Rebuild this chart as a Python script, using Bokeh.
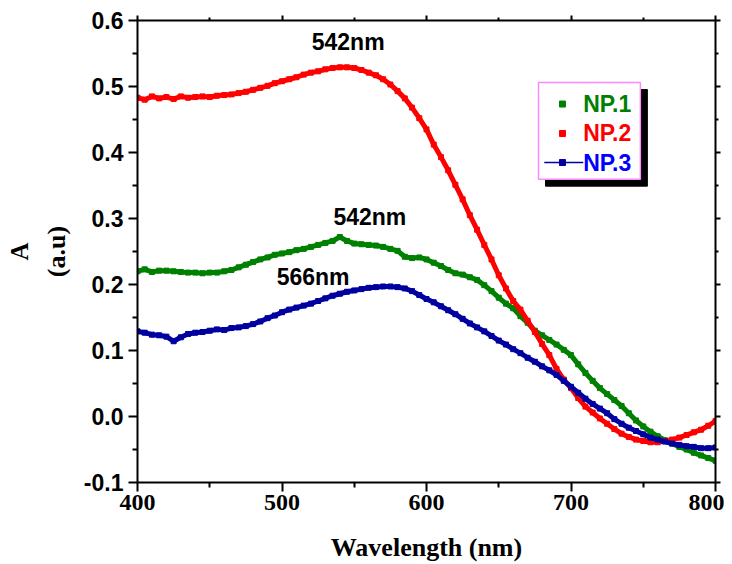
from bokeh.plotting import figure
from bokeh.models import LinearAxis, FixedTicker, PrintfTickFormatter, Range1d, CustomJSTickFormatter
from bokeh.core.properties import value
from bokeh.embed import file_html
from bokeh.resources import INLINE

wavelength = list(range(400, 805, 5))

np1 = [0.220, 0.223, 0.219, 0.221, 0.221, 0.220, 0.219, 0.218, 0.218, 0.217,
       0.218, 0.218, 0.220, 0.222, 0.226, 0.230, 0.234, 0.238, 0.241, 0.245,
       0.247, 0.249, 0.252, 0.254, 0.257, 0.260, 0.263, 0.266, 0.272, 0.266,
       0.262, 0.261, 0.260, 0.259, 0.257, 0.254, 0.251, 0.242, 0.240, 0.241,
       0.238, 0.233, 0.228, 0.222, 0.217, 0.215, 0.211, 0.207, 0.199, 0.190,
       0.180, 0.171, 0.164, 0.152, 0.142, 0.130, 0.123, 0.116, 0.109, 0.101,
       0.093, 0.079, 0.066, 0.054, 0.043, 0.034, 0.025, 0.016, 0.005, -0.006,
       -0.015, -0.023, -0.030, -0.036, -0.041, -0.046, -0.050, -0.055, -0.059, -0.063,
       -0.067]

np2 = [0.483, 0.480, 0.485, 0.482, 0.484, 0.481, 0.485, 0.483, 0.484, 0.485,
       0.484, 0.486, 0.487, 0.488, 0.490, 0.492, 0.495, 0.498, 0.501, 0.505,
       0.508, 0.511, 0.514, 0.518, 0.521, 0.523, 0.526, 0.528, 0.529, 0.529,
       0.528, 0.525, 0.521, 0.517, 0.511, 0.503, 0.493, 0.482, 0.468, 0.452,
       0.435, 0.412, 0.393, 0.373, 0.351, 0.329, 0.305, 0.283, 0.260, 0.238,
       0.214, 0.194, 0.175, 0.162, 0.145, 0.128, 0.110, 0.093, 0.072, 0.056,
       0.043, 0.028, 0.015, 0.006, -0.003, -0.011, -0.019, -0.026, -0.031, -0.035,
       -0.037, -0.039, -0.039, -0.037, -0.035, -0.032, -0.028, -0.024, -0.020, -0.014,
       -0.007]

np3 = [0.129, 0.127, 0.124, 0.123, 0.121, 0.114, 0.120, 0.125, 0.127, 0.128,
       0.130, 0.132, 0.131, 0.134, 0.135, 0.137, 0.140, 0.144, 0.149, 0.153,
       0.158, 0.162, 0.165, 0.168, 0.171, 0.175, 0.179, 0.183, 0.186, 0.189,
       0.191, 0.193, 0.195, 0.196, 0.197, 0.197, 0.196, 0.194, 0.190, 0.184,
       0.178, 0.173, 0.167, 0.161, 0.155, 0.148, 0.141, 0.135, 0.129, 0.122,
       0.115, 0.109, 0.102, 0.096, 0.089, 0.083, 0.076, 0.070, 0.063, 0.054,
       0.045, 0.036, 0.027, 0.019, 0.012, 0.005, -0.004, -0.011, -0.017, -0.022,
       -0.027, -0.032, -0.035, -0.038, -0.041, -0.043, -0.045, -0.046, -0.048, -0.048,
       -0.047]

series_names = ["NP.1", "NP.2", "NP.3"]
series_colors = ["#008000", "#ff0000", "#0000a0"]
label_colors = ["#008000", "#ff0000", "#0000ff"]

peak_texts = ["542nm", "542nm", "566nm"]
peak_x = [545.8, 560.8, 521.5]
peak_y = [0.568, 0.302, 0.211]

x_ticks = [400, 500, 600, 700, 800]
x_minor = [450, 550, 650, 750]
y_ticks = [-0.1, 0.0, 0.1, 0.2, 0.3, 0.4, 0.5, 0.6]
y_minor = [-0.05, 0.05, 0.15, 0.25, 0.35, 0.45, 0.55]

SANS = "Liberation Sans"
SERIF = "Liberation Serif"

p = figure(frame_width=578, frame_height=462, output_backend="svg",
           toolbar_location=None,
           x_range=Range1d(400, 800), y_range=Range1d(-0.1, 0.6),
           min_border_left=137, min_border_right=9, min_border_top=20,
           min_border_bottom=80)
p.grid.visible = False
p.outline_line_color = None
p.background_fill_color = "white"

empty_fmt = CustomJSTickFormatter(code="return '';")

def style_axis(ax, labels=True):
    ax.axis_line_width = 2
    ax.axis_line_color = "black"
    ax.major_tick_line_width = 2
    ax.minor_tick_line_width = 2
    ax.major_tick_out = 9
    ax.major_tick_in = 0
    ax.minor_tick_out = 5
    ax.minor_tick_in = 0
    ax.major_label_text_color = "black"
    ax.axis_label_text_color = "black"
    if not labels:
        ax.formatter = empty_fmt
        ax.major_label_text_font_size = "0px"
        ax.major_label_standoff = 0

p.xaxis.ticker = FixedTicker(ticks=x_ticks, minor_ticks=x_minor)
p.yaxis.ticker = FixedTicker(ticks=y_ticks, minor_ticks=y_minor)
p.yaxis.formatter = PrintfTickFormatter(format="%.1f")
style_axis(p.xaxis[0])
style_axis(p.yaxis[0])
p.xaxis.major_label_text_font = SERIF
p.xaxis.major_label_text_font_style = "bold"
p.xaxis.major_label_text_font_size = "24px"
p.xaxis.major_label_standoff = 3
p.xaxis.axis_label = "Wavelength (nm)"
p.xaxis.axis_label_text_font = SERIF
p.xaxis.axis_label_text_font_style = "bold"
p.xaxis.axis_label_text_font_size = "26px"
p.xaxis.axis_label_standoff = 20

p.yaxis.major_label_text_font = SANS
p.yaxis.major_label_text_font_style = "bold"
p.yaxis.major_label_text_font_size = "23px"
p.yaxis.major_label_standoff = 5
p.yaxis.axis_label = "(a.u)"
p.yaxis.axis_label_text_font = SERIF
p.yaxis.axis_label_text_font_style = "bold"
p.yaxis.axis_label_text_font_size = "26px"
p.yaxis.axis_label_standoff = 10

outer = LinearAxis(ticker=FixedTicker(ticks=[]), axis_label="A",
                   axis_line_color=None, major_tick_line_color=None,
                   minor_tick_line_color=None, major_label_text_font_size="0px",
                   major_tick_out=0, minor_tick_out=0, major_label_standoff=0,
                   formatter=empty_fmt,
                   axis_label_text_font=SERIF, axis_label_text_font_style="bold",
                   axis_label_text_font_size="25px", axis_label_standoff=6,
                   axis_label_text_color="black")
p.add_layout(outer, "left")

top = LinearAxis(ticker=FixedTicker(ticks=x_ticks, minor_ticks=x_minor))
style_axis(top, labels=False)
top.major_tick_out = 5
top.minor_tick_out = 3
p.add_layout(top, "above")
right = LinearAxis(ticker=FixedTicker(ticks=y_ticks, minor_ticks=y_minor))
style_axis(right, labels=False)
right.major_tick_out = 5
right.minor_tick_out = 3
p.add_layout(right, "right")

for ys, col in zip([np1, np2, np3], series_colors):
    p.line(wavelength, ys, line_color=col, line_width=5)
    p.scatter(wavelength, ys, marker="square", size=5, fill_color=col,
              line_color=col)

p.text(x=peak_x, y=peak_y, text=peak_texts, text_font=value(SANS),
       text_font_style="bold", text_font_size="23px", text_align="center",
       text_baseline="middle", text_color="black")

# legend box (decoration)
lg_left, lg_right, lg_top, lg_bottom = 677.5, 748.0, 0.506, 0.3596
sh_dx, sh_dy = 4.85, 0.0106
p.quad(left=[lg_left + sh_dx], right=[lg_right + sh_dx], top=[lg_top - sh_dy],
       bottom=[lg_bottom - sh_dy], fill_color="black", line_color="black")
p.quad(left=[lg_left], right=[lg_right], top=[lg_top], bottom=[lg_bottom],
       fill_color="white", line_color="#ff88ff", line_width=1.5)
row_y = [0.4734, 0.4288, 0.3848]
mark_x = 694.1
text_x = 708.4
p.segment(x0=[681.5], y0=[row_y[2]], x1=[708.5], y1=[row_y[2]],
          line_color=series_colors[2], line_width=1.5)
p.scatter(x=[mark_x] * 3, y=row_y, marker="square", size=6,
          fill_color=series_colors, line_color=series_colors)
p.text(x=[text_x] * 3, y=row_y, text=series_names, text_color=label_colors,
       text_font=value(SANS), text_font_style="bold", text_font_size="23px",
       text_align="left", text_baseline="middle")

open("out.html", "w").write(file_html(p, INLINE))
